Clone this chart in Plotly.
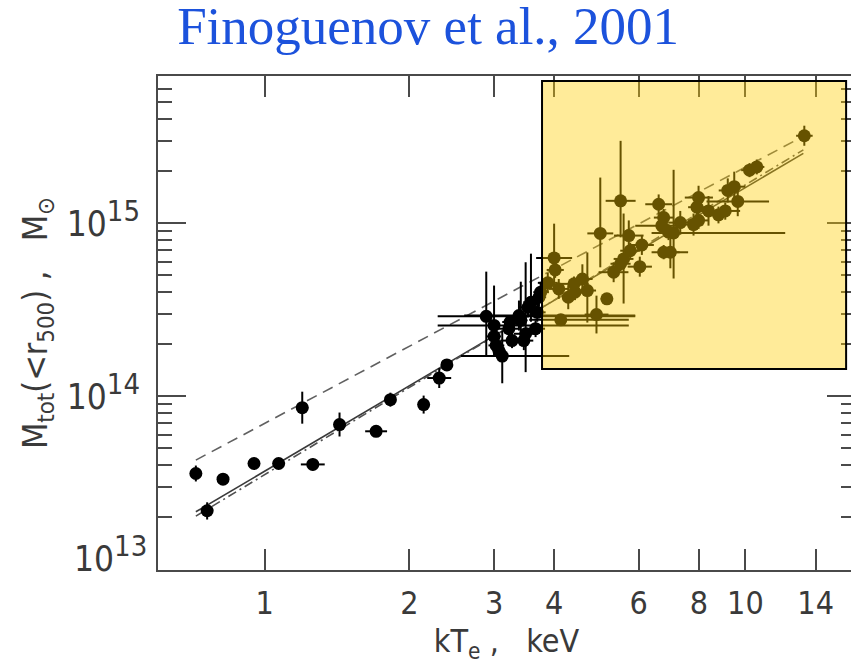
import numpy as np
import plotly.graph_objects as go

# ---- cluster sample: temperature (keV) and total mass inside r500 (1e14 Msun) ----
kT = [0.719, 0.759, 0.819, 0.950, 1.069, 1.197, 1.259, 1.431, 1.705, 1.826, 2.141, 2.307, 2.393,
      2.89, 3.00, 3.00, 3.03, 3.12, 3.07, 3.22, 3.24, 3.27, 3.38, 3.46, 3.49, 3.53, 3.58, 3.66,
      3.69, 3.72, 3.75, 3.41,
      4.00, 4.02, 3.88, 4.09, 4.28, 4.40, 4.42, 4.58, 4.69, 4.13, 4.90, 5.15, 4.99, 5.50, 5.72,
      5.76, 5.58, 5.50, 5.32, 6.03, 6.09, 6.60, 6.70, 6.76, 7.09, 6.92, 6.76, 6.98, 7.32, 7.80,
      7.99, 7.99, 7.93, 8.38, 8.79, 9.08, 9.19, 9.48, 9.64, 10.2, 10.56, 13.26]
kT_lo = [0.706, 0.745, 0.812, 0.942, 1.060, 1.163, 1.189, 1.404, 1.618, 1.791, 2.100, 2.178, 2.370,
         2.29, 2.29, 2.90, 2.92, 2.56, 2.98, 3.07, 3.12, 3.09, 2.60, 3.30, 3.30, 3.37, 3.45, 3.50,
         3.55, 3.60, 3.62, 3.30,
         3.67, 3.86, 3.70, 3.90, 4.16, 4.10, 4.25, 4.36, 4.50, 3.55, 4.63, 5.00, 4.69, 5.12, 5.33,
         5.49, 5.32, 5.24, 4.95, 5.69, 5.75, 6.19, 5.90, 6.45, 6.38, 6.60, 6.38, 6.70, 6.91, 7.45,
         7.60, 7.48, 7.60, 7.95, 8.40, 8.46, 8.80, 9.00, 8.30, 9.80, 10.20, 12.75]
kT_hi = [0.732, 0.773, 0.826, 0.958, 1.078, 1.232, 1.333, 1.458, 1.797, 1.861, 2.182, 2.443, 2.416,
         5.90, 5.72, 3.10, 3.15, 4.30, 3.17, 3.38, 3.37, 3.46, 5.90, 3.62, 3.70, 3.70, 3.72, 3.83,
         3.84, 3.85, 3.90, 3.52,
         4.36, 4.19, 4.07, 4.29, 4.40, 4.72, 4.60, 4.81, 4.89, 5.72, 5.19, 5.30, 5.31, 5.91, 6.14,
         6.04, 5.85, 5.77, 5.71, 6.39, 6.45, 7.04, 7.50, 7.09, 12.1, 7.25, 7.60, 7.30, 7.75, 8.17,
         8.40, 8.56, 8.30, 8.83, 9.20, 9.75, 9.60, 10.0, 11.2, 10.6, 10.95, 13.8]
mass = [0.358, 0.218, 0.332, 0.409, 0.409, 0.86, 0.404, 0.687, 0.628, 0.957, 0.896, 1.276, 1.52,
        2.90, 2.57, 2.22, 1.97, 1.71, 1.84, 2.46, 2.69, 2.10, 2.93, 2.10, 2.30, 3.27, 3.50, 2.46,
        3.06, 3.74, 4.00, 2.75,
        6.31, 5.38, 4.53, 4.18, 3.74, 4.47, 4.00, 4.77, 4.09, 2.77, 2.97, 3.66, 8.75, 13.5, 8.5,
        6.95, 6.23, 5.84, 5.22, 5.62, 7.50, 12.9, 9.7, 10.8, 8.8, 8.9, 6.81, 6.81, 10.1, 9.84,
        10.4, 14.1, 12.4, 11.8, 11.2, 11.8, 15.5, 16.3, 13.4, 20.3, 21.2, 32.1]
mass_lo = [0.322, 0.194, 0.322, 0.397, 0.397, 0.695, 0.373, 0.586, 0.587, 0.872, 0.795, 1.117, 1.47,
           1.72, 1.70, 2.00, 1.75, 1.19, 1.70, 2.15, 2.45, 1.90, 2.40, 1.85, 1.38, 2.86, 2.70, 2.20,
           2.70, 3.30, 3.50, 2.30,
           4.09, 4.84, 3.97, 3.66, 3.19, 4.05, 3.60, 3.90, 2.67, 2.60, 2.31, 3.45, 5.57, 8.3, 7.0,
           6.25, 3.44, 5.30, 4.57, 4.92, 6.57, 11.3, 8.9, 9.6, 4.80, 8.0, 6.2, 5.5, 8.6, 8.5,
           9.3, 12.0, 11.2, 9.7, 10.0, 10.5, 13.2, 13.4, 11.0, 18.5, 19.2, 28.1]
mass_hi = [0.398, 0.244, 0.342, 0.421, 0.421, 1.064, 0.437, 0.806, 0.671, 1.050, 1.010, 1.457, 1.57,
           5.26, 4.37, 2.46, 2.20, 2.40, 2.00, 2.81, 2.95, 2.33, 3.58, 2.40, 5.96, 3.73, 6.68, 2.75,
           3.50, 4.30, 4.60, 4.60,
           9.96, 5.98, 5.17, 4.77, 4.39, 4.93, 4.45, 5.80, 6.79, 2.95, 3.82, 3.88, 18.4, 30.0, 10.4,
           7.73, 11.4, 6.40, 5.96, 6.42, 8.57, 14.7, 10.6, 12.1, 20.4, 9.9, 7.5, 8.5, 11.8, 11.4,
           11.6, 16.5, 13.7, 14.4, 12.5, 13.2, 18.2, 19.9, 16.3, 22.3, 23.4, 36.7]

# ---- M-T relations (end points of each power law) ----
fit_kT = [0.719, 13.2]
fit_dashed = [0.428, 31.9]
fit_solid = [0.215, 25.4]
fit_dashdot = [0.203, 26.6]

# ---- highlighted hot-cluster window ----
hot_kT = [3.775, 16.2]
hot_mass = [1.44, 66.6]

x_ticks = [1, 2, 3, 4, 6, 8, 10, 14]
y_exp = [13, 14, 15]
y_minor = [m * 10.0 ** e for e in (13, 14, 15) for m in range(2, 10) if m * 10.0 ** e < 7e15]

UNIT = 1e14
kT_a = np.array(kT)
m_a = np.array(mass) * UNIT

fig = go.Figure()

line_col = "#4a4a4a"
for ys, dash, col in [(fit_dashed, "11px,7px", "#606060"),
                      (fit_solid, "solid", "#3a3a3a"),
                      (fit_dashdot, "9px,4px,2px,4px", "#505050")]:
    fig.add_trace(go.Scatter(x=fit_kT, y=np.array(ys) * UNIT, mode="lines",
                             line=dict(color=col, width=1.6, dash=dash),
                             hoverinfo="skip", showlegend=False))

fig.add_trace(go.Scatter(
    x=kT_a, y=m_a, mode="markers",
    marker=dict(size=13, color="black", line=dict(width=0)),
    error_x=dict(type="data", array=np.array(kT_hi) - kT_a, arrayminus=kT_a - np.array(kT_lo),
                 color="black", thickness=2, width=0),
    error_y=dict(type="data", array=np.array(mass_hi) * UNIT - m_a,
                 arrayminus=m_a - np.array(mass_lo) * UNIT,
                 color="black", thickness=2, width=0),
    showlegend=False))

fig.add_shape(type="rect", xref="x", yref="y",
              x0=hot_kT[0], x1=hot_kT[1], y0=hot_mass[0] * UNIT, y1=hot_mass[1] * UNIT,
              fillcolor="rgba(255,204,0,0.40)", line=dict(color="black", width=2),
              layer="above")

font_family = "Liberation Sans Narrow, DejaVu Sans Condensed, sans-serif"
x_font = dict(family=font_family, size=32, color="#3a3a3a")
y_font = dict(family=font_family, size=35, color="#3a3a3a")
title_font = dict(family=font_family, size=34, color="#3a3a3a")


def power_label(e):
    return "10<sup><span style='font-size:29px'>%d</span></sup>" % e


# the lowest decade label sits a little above its tick, clear of the bottom axis
y_ticktext = ["" if e == y_exp[0] else power_label(e) for e in y_exp]
fig.add_annotation(xref="paper", yref="y", x=0, y=y_exp[0], xanchor="right", yanchor="middle",
                   xshift=-9, yshift=15, showarrow=False, text=power_label(y_exp[0]),
                   font=y_font)

fig.update_layout(
    width=858, height=664,
    margin=dict(l=158, r=1, t=76, b=94),
    paper_bgcolor="white", plot_bgcolor="white",
    title=dict(text="Finoguenov et al., 2001", x=0.499, xref="container", xanchor="center",
               y=0.962, yref="container", yanchor="middle",
               font=dict(family="Liberation Serif, Times New Roman, serif", size=53,
                         color="#1c52dc")),
)

fig.update_xaxes(
    type="log", range=[-0.222, 1.228],
    tickmode="array", tickvals=x_ticks, ticktext=[str(v) for v in x_ticks],
    ticks="inside", ticklen=21, tickwidth=2, tickcolor=line_col,
    showline=True, linecolor=line_col, linewidth=2, mirror="ticks",
    showgrid=False, zeroline=False, tickfont=x_font, ticklabelstandoff=4,
    title=dict(text="kT<sub>e</sub> ,   keV", font=x_font, standoff=7),
)
fig.update_yaxes(
    type="log", range=[12.996, 15.852],
    tickmode="array", tickvals=[10.0 ** e for e in y_exp], ticktext=y_ticktext,
    ticks="inside", ticklen=28, tickwidth=2, tickcolor=line_col,
    minor=dict(tickmode="array", tickvals=y_minor, ticks="inside", ticklen=14,
               tickwidth=2, tickcolor=line_col, showgrid=False),
    showline=True, linecolor=line_col, linewidth=2, mirror="ticks",
    showgrid=False, zeroline=False, tickfont=y_font, ticklabelstandoff=9,
    title=dict(text="M<sub>tot</sub>(&lt;r<sub>500</sub>) ,   M<sub>⊙</sub>",
               font=title_font, standoff=9),
)

fig.write_html("out.html",
               post_script="document.documentElement.style.overflow='hidden';"
                           "document.body.style.overflow='hidden';"
                           "document.body.style.margin='0';")
